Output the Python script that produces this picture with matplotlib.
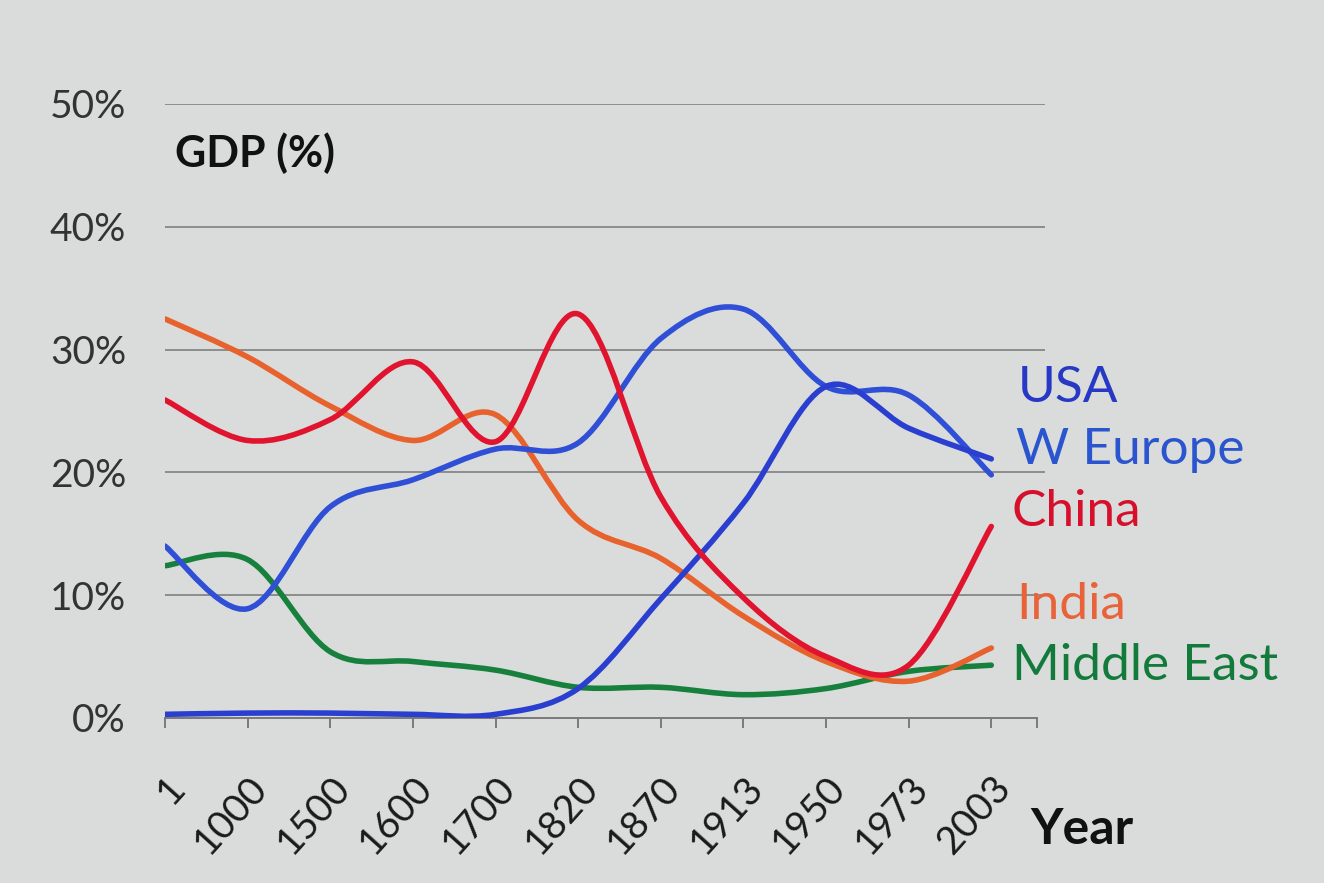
import matplotlib
matplotlib.use("Agg")
import matplotlib.pyplot as plt
from matplotlib.path import Path
from matplotlib.patches import PathPatch

plt.rcParams['font.family'] = ['Lato', 'DejaVu Sans']

# share of world GDP (%)
years = ['1', '1000', '1500', '1600', '1700', '1820', '1870', '1913', '1950', '1973', '2003']
china = [25.9, 22.6, 24.3, 29.0, 22.5, 32.9, 18.0, 9.8, 5.0, 4.3, 15.6]
india = [32.5, 29.4, 25.4, 22.6, 24.7, 16.1, 13.0, 8.3, 4.6, 3.0, 5.7]
w_europe = [14.0, 8.9, 17.2, 19.4, 21.9, 22.4, 30.9, 33.3, 27.0, 26.3, 19.8]
usa = [0.3, 0.4, 0.4, 0.3, 0.3, 2.4, 9.7, 17.5, 27.0, 23.6, 21.1]
middle_east = [12.4, 12.9, 5.4, 4.6, 3.9, 2.5, 2.5, 1.9, 2.4, 3.8, 4.3]

series = [
    ('Middle East', middle_east, '#17803d'),
    ('India', india, '#e8622e'),
    ('W Europe', w_europe, '#2f4fd6'),
    ('USA', usa, '#2a3fd0'),
    ('China', china, '#e0142e'),
]
bg = '#d9dcdb'


def smooth_path(xs, ys):
    # excel-like smoothed line: catmull-rom segments as cubic beziers
    pts = list(zip(xs, ys))
    n = len(pts)
    verts = [pts[0]]
    codes = [Path.MOVETO]
    for i in range(n - 1):
        p0 = pts[max(i - 1, 0)]
        p1 = pts[i]
        p2 = pts[i + 1]
        p3 = pts[min(i + 2, n - 1)]
        c1 = (p1[0] + (p2[0] - p0[0]) / 6, p1[1] + (p2[1] - p0[1]) / 6)
        c2 = (p2[0] - (p3[0] - p1[0]) / 6, p2[1] - (p3[1] - p1[1]) / 6)
        verts += [c1, c2, p2]
        codes += [Path.CURVE4] * 3
    return Path(verts, codes)


W, H = 1324, 883
fig = plt.figure(figsize=(W / 100, H / 100), dpi=100, facecolor=bg)
ax = fig.add_axes([165 / W, (H - 718) / H, (1045 - 165) / W, (718 - 104) / H])
ax.set_facecolor(bg)

x = list(range(len(years)))
ax.set_xlim(0, 10.65)
ax.set_ylim(0, 50)

for val in [10, 20, 30, 40, 50]:
    ax.axhline(val, color='#8c8c8c', lw=1.4, zorder=1)

for name, vals, col in series:
    ax.add_patch(PathPatch(smooth_path(x, vals), fill=False, edgecolor=col,
                           lw=4, capstyle='round', zorder=3))

for s in ['top', 'right', 'left']:
    ax.spines[s].set_visible(False)
ax.spines['bottom'].set_color('#7a7a7a')
ax.spines['bottom'].set_linewidth(1.4)
ax.spines['bottom'].set_bounds(0, 10.55)

ax.set_xticks(x + [10.55])
ax.set_xticklabels(years + [''])
ax.tick_params(axis='x', direction='out', length=7, width=1.4, color='#7a7a7a',
               pad=30, labelsize=28, labelcolor='#1a1a1a')
for lab in ax.get_xticklabels():
    lab.set_rotation(48)
    lab.set_ha('right')
    lab.set_va('top')
    lab.set_rotation_mode('anchor')

ax.set_yticks([0, 10, 20, 30, 40, 50])
ax.set_yticklabels(['0%', '10%', '20%', '30%', '40%', '50%'])
ax.tick_params(axis='y', length=0, pad=28, labelsize=28, labelcolor='#333333')

fig.text(175 / W, 1 - 153 / H, 'GDP (%)', fontsize=31, fontweight='bold',
         color='#111111', va='center', ha='left')
fig.text(1030 / W, 1 - 830 / H, 'Year', fontsize=36, fontweight='bold',
         color='#111111', va='center', ha='left')

labels = [
    ('USA', 1018, 388, '#2638c4'),
    ('W Europe', 1016, 450, '#2a55cf'),
    ('China', 1012, 512, '#d6102c'),
    ('India', 1016, 605, '#e8623a'),
    ('Middle East', 1012, 666, '#127a3a'),
]
for txt, px, py, col in labels:
    fig.text(px / W, 1 - py / H, txt, fontsize=37, color=col,
             va='center', ha='left')

fig.savefig('out.png', dpi=100, facecolor=bg)
